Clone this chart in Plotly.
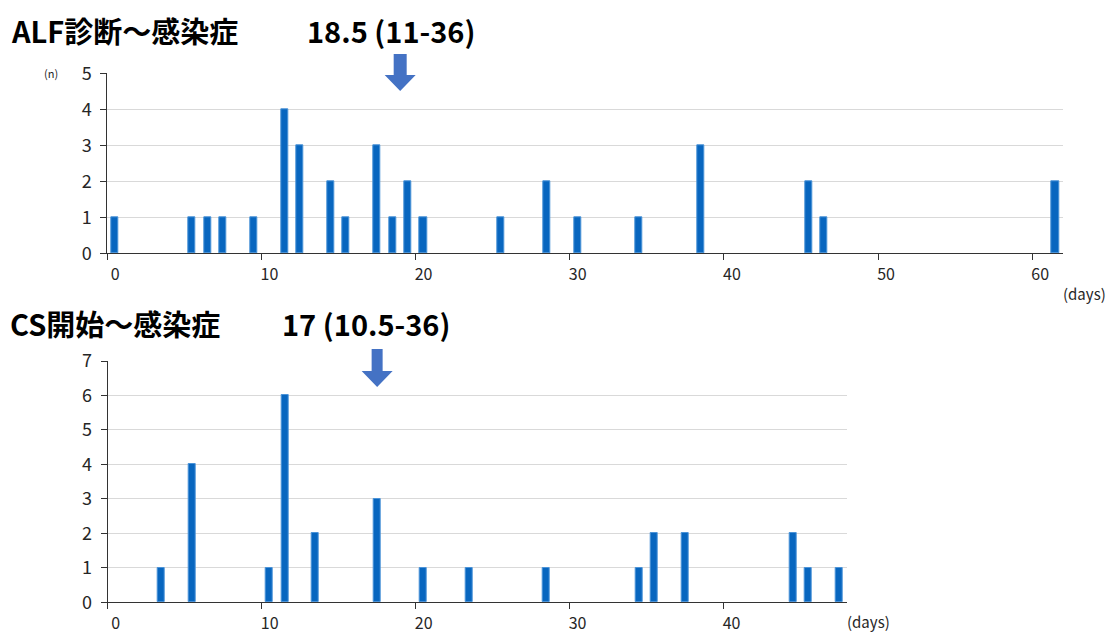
import plotly.graph_objects as go

# ---------------- data ----------------
alf_days = [0, 5, 6, 7, 9, 11, 12, 14, 15, 17, 18, 19, 20, 25, 28, 30, 34, 38, 45, 46, 61]
alf_counts = [1, 1, 1, 1, 1, 4, 3, 2, 1, 3, 1, 2, 1, 1, 2, 1, 1, 3, 2, 1, 2]
alf_title = "ALF診断～感染症"
alf_stat = "18.5 (11-36)"
alf_median = 18.5

cs_days = [3, 5, 10, 11, 13, 17, 20, 23, 28, 34, 35, 37, 44, 45, 47]
cs_counts = [1, 4, 1, 6, 2, 3, 1, 1, 1, 1, 2, 2, 2, 1, 1]
cs_title = "CS開始～感染症"
cs_stat = "17 (10.5-36)"
cs_median = 17

x_ticks_top = [0, 10, 20, 30, 40, 50, 60]
x_ticks_bot = [0, 10, 20, 30, 40]
y_ticks_top = [0, 1, 2, 3, 4, 5]
y_ticks_bot = [0, 1, 2, 3, 4, 5, 6, 7]

# ---------------- style ----------------
W, H = 1113, 634
FONT = "Noto Sans CJK JP"
BAR_FILL = "#0866BF"
BAR_EDGE = "#4B93D8"
ARROW = "#4472C4"
AXIS = "#333333"
GRID = "#D9D9D9"
TXT = "#262626"

def py(px):  # pixel y (from top) -> paper
    return (H - px) / H

def pxx(px):
    return px / W

fig = go.Figure()

bar_w = 0.46
bar_off = 0.5 - bar_w / 2

fig.add_trace(go.Bar(x=alf_days, y=alf_counts, width=bar_w, offset=bar_off,
                     marker=dict(color=BAR_FILL, line=dict(color=BAR_EDGE, width=1)),
                     xaxis="x", yaxis="y", showlegend=False, hoverinfo="x+y"))
fig.add_trace(go.Bar(x=cs_days, y=cs_counts, width=bar_w, offset=bar_off,
                     marker=dict(color=BAR_FILL, line=dict(color=BAR_EDGE, width=1)),
                     xaxis="x2", yaxis="y2", showlegend=False, hoverinfo="x+y"))

common_x = dict(showgrid=False, zeroline=False, showline=True, linecolor=AXIS, linewidth=1,
                ticks="outside", ticklen=6, tickcolor=AXIS, tickwidth=1,
                tickfont=dict(family=FONT, size=16, color=TXT), ticklabelshift=8,
                automargin=False)
common_y = dict(showgrid=True, gridcolor=GRID, gridwidth=1, zeroline=False, showline=True,
                linecolor=AXIS, linewidth=1, ticks="outside", ticklen=6, tickcolor=AXIS,
                tickwidth=1, tickfont=dict(family=FONT, size=18, color=TXT),
                ticklabelstandoff=5, automargin=False)

fig.update_layout(
    width=W, height=H, autosize=False,
    margin=dict(l=0, r=0, t=0, b=0, pad=0),
    paper_bgcolor="white", plot_bgcolor="white",
    bargap=0,
    xaxis=dict(domain=[pxx(107.3), pxx(1063)], range=[0, 62],
               tickvals=x_ticks_top, anchor="y", **common_x),
    yaxis=dict(domain=[py(253.3), py(73.3)], range=[0, 5], tickvals=y_ticks_top,
               anchor="x", **common_y),
    xaxis2=dict(domain=[pxx(107.7), pxx(846.7)], range=[0, 48],
                tickvals=x_ticks_bot, anchor="y2", **common_x),
    yaxis2=dict(domain=[py(602.3), py(361)], range=[0, 7], tickvals=y_ticks_bot,
                anchor="x2", **common_y),
)

ann = []
def txt(x, y, s, size, bold=False, anchor="left"):
    ann.append(dict(x=pxx(x), y=py(y), xref="paper", yref="paper", text=(f"<b>{s}</b>" if bold else s),
                    showarrow=False, xanchor=anchor, yanchor="middle",
                    font=dict(family=FONT, size=size, color="#000000" if bold else TXT)))

txt(9, 30, alf_title, 29, bold=True)
txt(305, 30, alf_stat, 29, bold=True)
txt(8, 323, cs_title, 29, bold=True)
txt(280, 323, cs_stat, 29, bold=True)
txt(42, 73, "(n)", 11)
txt(1061, 293, "(days)", 15)
txt(845, 621, "(days)", 15)
fig.update_layout(annotations=ann)

def arrow(xaxis, xval, top, neck, tip, shaft_half, head_half):
    path = (f"M {-shaft_half},{py(top)} L {shaft_half},{py(top)} L {shaft_half},{py(neck)} "
            f"L {head_half},{py(neck)} L 0,{py(tip)} L {-head_half},{py(neck)} "
            f"L {-shaft_half},{py(neck)} Z")
    return dict(type="path", xref=xaxis, yref="paper", xsizemode="pixel", xanchor=xval,
                path=path, fillcolor=ARROW, line=dict(width=0), layer="above")

fig.update_layout(shapes=[
    arrow("x", alf_median + 0.5, 54, 75, 91, 6.5, 15.5),
    arrow("x2", cs_median + 0.5, 349, 371, 387, 5.5, 15.5),
])

fig.write_html(
    "out.html",
    config={"responsive": False, "displayModeBar": False},
    post_script="document.body.style.margin='0';document.body.style.overflow='hidden';",
)
